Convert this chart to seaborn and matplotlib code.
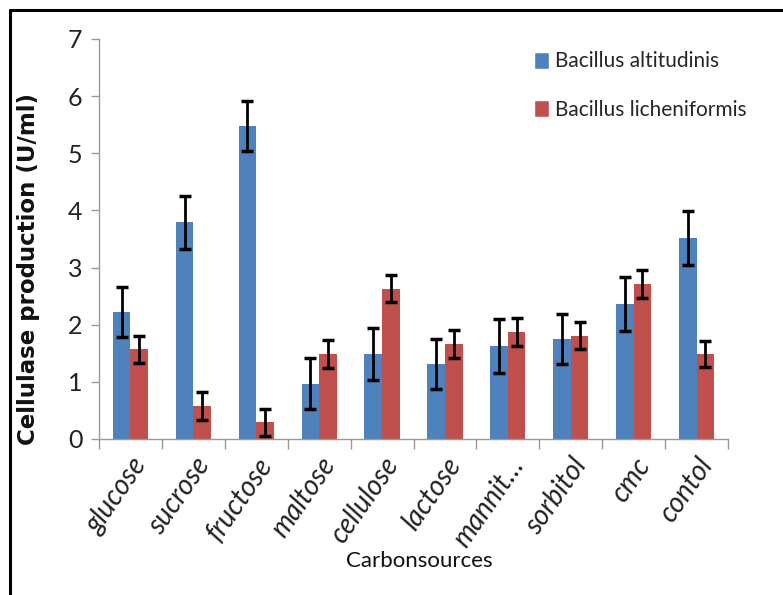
import matplotlib
matplotlib.use("Agg")
import matplotlib.pyplot as plt
from matplotlib.lines import Line2D
import seaborn as sns
import pandas as pd
import numpy as np

categories = ["glucose", "sucrose", "fructose", "maltose", "cellulose",
              "lactose", "mannit…", "sorbitol", "cmc", "contol"]
series_names = ["Bacillus altitudinis", "Bacillus licheniformis"]
altitudinis = [2.22, 3.79, 5.48, 0.97, 1.49, 1.31, 1.63, 1.75, 2.36, 3.52]
licheniformis = [1.57, 0.58, 0.29, 1.49, 2.63, 1.66, 1.87, 1.81, 2.71, 1.49]
err_altitudinis = [0.44, 0.46, 0.44, 0.45, 0.45, 0.44, 0.47, 0.44, 0.47, 0.47]
err_licheniformis = [0.24, 0.24, 0.24, 0.24, 0.24, 0.24, 0.24, 0.23, 0.24, 0.23]
yticks = [0, 1, 2, 3, 4, 5, 6, 7]

df = pd.DataFrame({
    "source": categories * 2,
    "strain": [series_names[0]] * len(categories) + [series_names[1]] * len(categories),
    "value": altitudinis + licheniformis,
})

sns.set_theme(style="white")
plt.rcParams["font.family"] = ["Lato", "DejaVu Sans"]

fig = plt.figure(figsize=(7.83, 5.95), dpi=100)
ax = fig.add_axes([99 / 783, 1 - 439 / 595, 629 / 783, 400 / 595])

palette = {series_names[0]: "#4F81BD", series_names[1]: "#C0504D"}
sns.barplot(data=df, x="source", y="value", hue="strain", order=categories,
            hue_order=series_names, palette=palette, width=0.56, gap=0,
            errorbar=None, saturation=1, ax=ax)

errs = err_altitudinis + err_licheniformis
vals = altitudinis + licheniformis
bars = [p for p in ax.patches if p.get_height() > 0 or p.get_width() > 0][:len(vals)]
xs = [p.get_x() + p.get_width() / 2 for p in bars]
hs = [p.get_height() for p in bars]
ax.errorbar(xs, hs, yerr=errs, fmt="none", ecolor="black", elinewidth=2,
            capsize=4, capthick=2.5, zorder=5)

for p in bars:
    p.set_edgecolor("none")

ax.set_ylim(0, 7)
ax.set_xlim(-0.5, len(categories) - 0.5)
ax.set_yticks(yticks)
ax.set_yticklabels([str(t) for t in yticks], fontsize=18, color="#222222")
ax.set_xticks(range(len(categories)))
ax.set_xticklabels(categories, rotation=55, ha="right", rotation_mode="anchor",
                   fontsize=20, style="italic", color="#222222")
ax.set_xticks(np.arange(-0.5, len(categories), 1.0), minor=True)
ax.tick_params(axis="x", which="major", length=0, pad=10)
ax.tick_params(axis="x", which="minor", length=7, color="#999999", width=1, direction="out", bottom=True)
ax.tick_params(axis="y", which="major", length=6, color="#999999", width=1, direction="out", left=True, pad=6)

for s in ["top", "right"]:
    ax.spines[s].set_visible(False)
for s in ["left", "bottom"]:
    ax.spines[s].set_color("#999999")
    ax.spines[s].set_linewidth(1)

ax.set_ylabel("Cellulase production (U/ml)", fontsize=16.5, fontweight="bold",
              family=["DejaVu Sans"], color="#111111")
ax.yaxis.set_label_coords(-0.094, 0.425)
ax.set_xlabel("Carbonsources", fontsize=16, color="#111111")
ax.xaxis.set_label_coords(0.51, -0.28)

leg = ax.legend(loc="upper left", bbox_to_anchor=(0.672, 1.0), frameon=False,
                fontsize=15, handlelength=0.7, handleheight=0.9, handletextpad=0.3,
                labelspacing=1.35, borderaxespad=0.2)

fig.add_artist(Line2D([10 / 783, 1], [1 - 10 / 595, 1 - 10 / 595], color="black", lw=2.2))
fig.add_artist(Line2D([10 / 783, 10 / 783], [0, 1 - 10 / 595], color="black", lw=2.2))

fig.savefig("out.png", dpi=100)
